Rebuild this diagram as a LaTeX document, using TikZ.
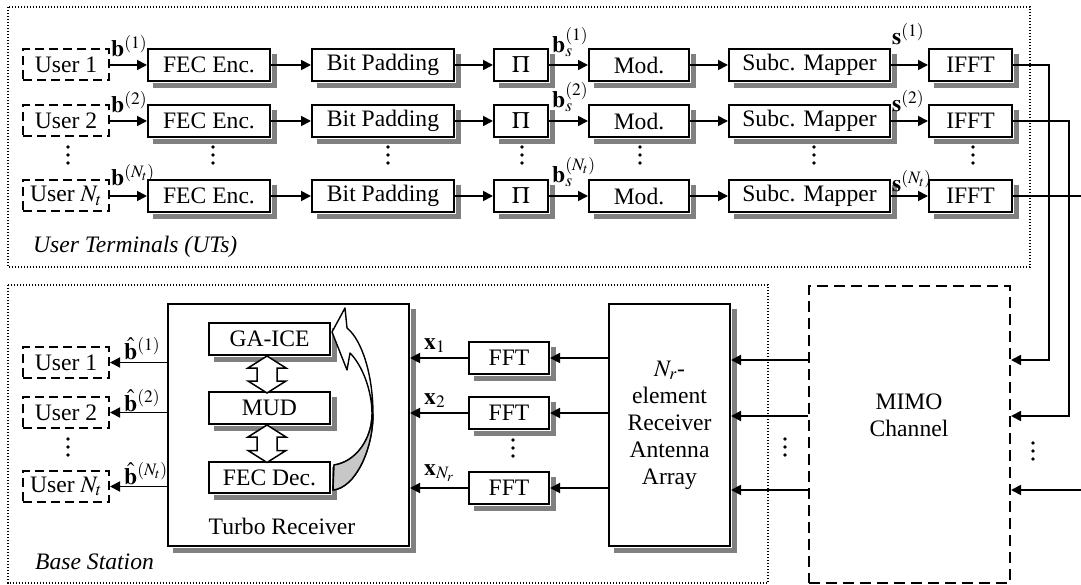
\documentclass[tikz,border=0pt]{standalone}
\usepackage{mathptmx}
\usepackage[no-math]{fontspec}
\setmainfont{Liberation Serif}
\usetikzlibrary{arrows.meta,calc}
\newcommand\mydots[2]{\fill (#1,#2) circle (1.8pt) (#1,#2+8) circle (1.8pt) (#1,#2+16) circle (1.8pt);}
% shadowed box: name, cx, cy, width, height, text, extra options
\newcommand\myshbox[7]{%
  \node[box, minimum width=#4pt, minimum height=#5pt, #7] (#1) at (#2,#3) {#6};
  \coordinate (#1sa) at ($(#1.north east)+(3.5pt,-6pt)$);
  \coordinate (#1sb) at ($(#1.south east)+(3.5pt,-3.5pt)$);
  \coordinate (#1sc) at ($(#1.south west)+(6pt,-3.5pt)$);
  \draw[black!50, line width=5pt] (#1sa) -- (#1sb) -- (#1sc);}
\begin{document}
\begin{tikzpicture}[x=1pt,y=-1pt,
  every node/.style={font=\fontsize{23.6}{27}\selectfont, inner sep=0pt},
  box/.style={draw, line width=2pt, fill=white},
  userbox/.style={draw, line width=2pt, dash pattern=on 9pt off 5pt, fill=white,
    minimum width=86pt, minimum height=31pt},
  arr/.style={line width=1.8pt, -{Triangle[length=10pt,width=10pt]}},
  wire/.style={line width=1.8pt},
  lbl/.style={anchor=base west},
  region/.style={line width=1.3pt, dash pattern=on 1.3pt off 1.7pt},
  dbl/.style={line width=1.5pt, fill=white, line join=miter},
  itlbl/.style={anchor=base west, font=\fontsize{23.6}{27}\selectfont\itshape}
]
\useasboundingbox (0,0) rectangle (1081,585);

% regions
\draw[region] (8,7) rectangle (1030,267);
\draw[region] (8,285) rectangle (768,583);
\node[itlbl] (utlbl) at (33,253) {User Terminals (UTs)};
\node[itlbl] (bslbl) at (35,569) {Base Station};

% transmitter chains
\foreach \r/\y/\u in {1/65/{User 1}, 2/121/{User 2}, 3/196/{User $N_t$}} {
  \node[userbox] (u\r) at (66,\y) {\u};
  \myshbox{fec\r}{209}{\y}{122}{32}{FEC Enc.}{}
  \myshbox{bp\r}{383}{\y}{142}{32}{Bit Padding}{}
  \myshbox{pi\r}{521}{\y}{54}{32}{$\Pi$}{}
  \myshbox{mod\r}{639}{\y}{100}{32}{Mod.}{}
  \myshbox{sm\r}{809.5}{\y}{161}{32}{Subc. Mapper}{}
  \myshbox{ifft\r}{970.5}{\y}{83}{32}{IFFT}{}
  \draw[arr] (u\r.east) -- (fec\r.west);
  \draw[arr] (fec\r.east) -- (bp\r.west);
  \draw[arr] (bp\r.east) -- (pi\r.west);
  \draw[arr] (pi\r.east) -- (mod\r.west);
  \draw[arr] (mod\r.east) -- (sm\r.west);
  \draw[arr] (sm\r.east) -- (ifft\r.west);
}
\mydots{68}{147}
\mydots{213}{147}
\mydots{388}{147}
\mydots{522}{147}
\mydots{640}{147}
\mydots{814}{147}
\mydots{973}{147}

\node[lbl] (lb1) at (111,57) {$\mathbf{b}^{(1)}$};
\node[lbl] (lb2) at (111,113) {$\mathbf{b}^{(2)}$};
\node[lbl] (lb3) at (111,186) {$\mathbf{b}^{(N_t)}$};
\node[lbl] (lbs1) at (552,53) {$\mathbf{b}_s^{(1)}$};
\node[lbl] (lbs2) at (552,108) {$\mathbf{b}_s^{(2)}$};
\node[lbl] (lbs3) at (552,183) {$\mathbf{b}_s^{(N_t)}$};
\node[lbl] (ls1) at (892,45) {$\mathbf{s}^{(1)}$};
\node[lbl] (ls2) at (892,112) {$\mathbf{s}^{(2)}$};
\node[lbl] (ls3) at (892,192) {$\mathbf{s}^{(N_t)}$};

% MIMO channel
\node[draw, line width=2pt, dash pattern=on 11pt off 6pt, minimum width=201pt, minimum height=297pt] (mimo) at (909.5,434.5) {};
\node[align=center] (mimotxt) at (909,415) {MIMO\\Channel};

\coordinate (t1) at (1049,360);
\coordinate (t2) at (1069,416);
\coordinate (t3) at (1081,196);
\coordinate (t4) at (1081,490);
\draw[arr] (ifft1.east) -| (t1) -- (mimo.east |- t1);
\draw[arr] (ifft2.east) -| (t2) -- (mimo.east |- t2);
\draw[wire] (ifft3.east) -- (t3);
\draw[arr] (t4) -- (mimo.east |- t4);
\mydots{1033}{443}

% antenna array
\myshbox{ant}{669.5}{425}{121}{242}{$N_r$-\\element\\Receiver\\Antenna\\Array}{align=center}
\draw[arr] (mimo.west |- t1) -- (ant.east |- t1);
\draw[arr] (mimo.west |- t2) -- (ant.east |- t2);
\draw[arr] (mimo.west |- t4) -- (ant.east |- t4);
\mydots{785}{439}

% turbo receiver
\myshbox{turbo}{288.5}{425}{241}{242}{}{}
\node[anchor=base] (turbotxt) at (282,534) {Turbo Receiver};

% FFTs
\foreach \r/\y in {1/358, 2/413, 3/488} {
  \myshbox{fft\r}{509}{\y}{80}{32}{FFT}{}
  \draw[arr] (ant.west |- fft\r) -- (fft\r.east);
  \draw[arr] (fft\r.west) -- (turbo.east |- fft\r);
}
\mydots{513}{440}
\node[lbl] (lx1) at (424,349) {$\mathbf{x}_1$};
\node[lbl] (lx2) at (424,404) {$\mathbf{x}_2$};
\node[lbl] (lx3) at (424,475) {$\mathbf{x}_{N_r}$};

% inner blocks
\myshbox{ga}{269.5}{339}{121}{32}{GA-ICE}{}
\myshbox{mud}{269.5}{408}{121}{32}{MUD}{}
\myshbox{fecd}{269.5}{477.5}{121}{31}{FEC Dec.}{}
\draw[dbl] ([xshift=-2.5pt]ga.south) -- ++(-19,12) -- ++(9,0) -- ++(0,13) -- ++(-9,0) -- ++(19,12)
  -- ++(19,-12) -- ++(-9,0) -- ++(0,-13) -- ++(9,0) -- cycle;
\draw[dbl] ([xshift=-2.5pt]mud.south) -- ++(-19,12) -- ++(9,0) -- ++(0,13.5) -- ++(-9,0) -- ++(19,12)
  -- ++(19,-12) -- ++(-9,0) -- ++(0,-13.5) -- ++(9,0) -- cycle;

% feedback ribbon
\filldraw[line width=1.4pt, fill=white, line join=round]
  (347,328) -- (345,308) -- (332,332) -- (347,370) -- (350,353)
  .. controls (362,365) and (372,390) .. (372,414)
  .. controls (372,440) and (355,462) .. (334,465)
  -- (333,490)
  .. controls (355,488) and (373,450) .. (373,414)
  .. controls (373,375) and (362,340) .. (347,328) -- cycle;
\filldraw[line width=1.4pt, fill=black!22, line join=round]
  (372,414) .. controls (372,440) and (355,462) .. (334,465)
  -- (333,490) .. controls (355,488) and (373,450) .. (373,414) -- cycle;

% receiver users
\foreach \r/\y/\u in {1/362.5/{User 1}, 2/412.5/{User 2}, 3/486.5/{User $N_t$}} {
  \node[userbox] (bu\r) at (66,\y) {\u};
  \draw[arr] (turbo.west |- bu\r) -- (bu\r.east);
}
\mydots{68}{439}
\node[lbl] (lh1) at (124,359) {$\hat{\mathbf{b}}^{(1)}$};
\node[lbl] (lh2) at (124,411) {$\hat{\mathbf{b}}^{(2)}$};
\node[lbl] (lh3) at (124,484) {$\hat{\mathbf{b}}^{(N_t)}$};
\end{tikzpicture}
\end{document}
